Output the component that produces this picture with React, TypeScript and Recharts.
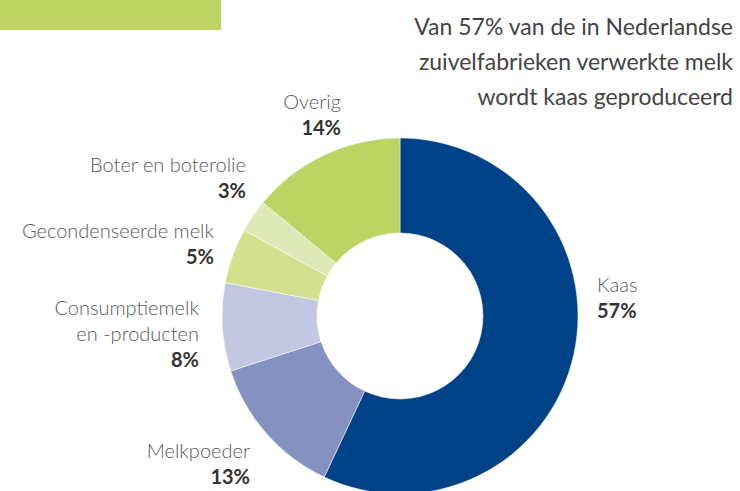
import React from "react";
import { PieChart, Pie, Cell, Customized } from "recharts";

const categories = ["Kaas", "Melkpoeder", "Consumptiemelk en -producten", "Gecondenseerde melk", "Boter en boterolie", "Overig"];
const shares = [57, 13, 8, 5, 3, 14];
const colors = ["#004288", "#8591C0", "#C2C7E2", "#D3E08D", "#DFE9B8", "#BDD462"];

const titleLines = ["Van 57% van de in Nederlandse", "zuivelfabrieken verwerkte melk", "wordt kaas geproduceerd"];

type LabelSpec = { lines: string[]; x: number; y: number; anchor: "start" | "end" };
const labelSpecs: LabelSpec[] = [
  { lines: ["Kaas"], x: 597, y: 292, anchor: "start" },
  { lines: ["Melkpoeder"], x: 250, y: 458, anchor: "end" },
  { lines: ["Consumptiemelk", "en -producten"], x: 199, y: 315, anchor: "end" },
  { lines: ["Gecondenseerde melk"], x: 214, y: 238, anchor: "end" },
  { lines: ["Boter en boterolie"], x: 246, y: 172, anchor: "end" },
  { lines: ["Overig"], x: 341, y: 109, anchor: "end" },
];

const data = categories.map((name, i) => ({ name, value: shares[i] }));

const FONT = "'Source Sans Pro', Lato, 'Noto Sans', sans-serif";
const LINE = 26;

const Overlay = () => (
  <g>
    <rect x={0} y={0} width={221} height={30} fill="#BDD462" />
    {titleLines.map((t, i) => (
      <text key={t} x={733} y={35 + i * 35} textAnchor="end" fontFamily={FONT} fontSize={23} fill="#444">
        {t}
      </text>
    ))}
    {labelSpecs.map((s, i) => (
      <g key={i}>
        {s.lines.map((l, j) => (
          <text key={j} x={s.x} y={s.y + j * LINE} textAnchor={s.anchor} fontFamily={FONT} fontWeight={300} fontSize={20} fill="#5a5a5a">
            {l}
          </text>
        ))}
        <text x={s.x} y={s.y + s.lines.length * LINE} textAnchor={s.anchor} fontFamily={FONT} fontWeight={700} fontSize={20} fill="#333">
          {shares[i]}%
        </text>
      </g>
    ))}
  </g>
);

export default function App() {
  return (
    <div style={{ position: "absolute", left: 0, top: 0 }}>
      <PieChart width={740} height={491} margin={{ top: 0, right: 0, bottom: 0, left: 0 }}>
        <Pie
          data={data}
          dataKey="value"
          nameKey="name"
          cx={400}
          cy={316}
          innerRadius={83}
          outerRadius={178}
          startAngle={90}
          endAngle={-270}
          stroke="#fff"
          strokeWidth={0.5}
          isAnimationActive={false}
        >
          {data.map((d, i) => (
            <Cell key={d.name} fill={colors[i]} />
          ))}
        </Pie>
        <Customized component={Overlay} />
      </PieChart>
    </div>
  );
}
